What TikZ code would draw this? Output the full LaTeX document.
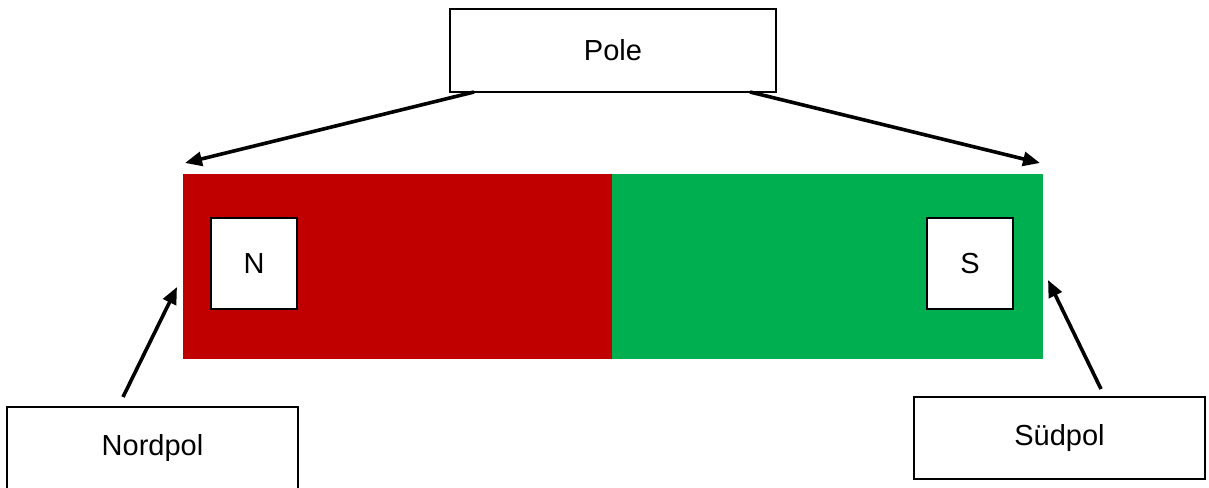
\documentclass[tikz,border=0pt]{standalone}
\usepackage{fontspec}
\setmainfont{Liberation Sans}
\usetikzlibrary{arrows.meta}
\definecolor{polred}{HTML}{C00000}
\definecolor{polgreen}{HTML}{00B050}
\begin{document}
\begin{tikzpicture}[x=1pt,y=-1pt,
  labelbox/.style={draw=black,line width=1.2pt,fill=white,inner sep=0pt,
    font=\fontsize{29}{34}\selectfont},
  polebox/.style={labelbox,minimum width=86pt,minimum height=91pt},
  pointer/.style={line width=3.6pt,-{Triangle[length=17pt,width=14pt]}}]
\useasboundingbox (0,0) rectangle (1209,487);
\clip (0,0) rectangle (1209,487);
% bar magnet: two halves
\fill[polred] (183,174) rectangle (612,359);
\fill[polgreen] (612,174) rectangle (1043,359);
\node[polebox] (n) at (254,263.5) {N};
\node[polebox] (s) at (970,263.5) {S};
% caption boxes
\node[labelbox,minimum width=326pt,minimum height=83pt] (pole) at (613,50.5) {Pole};
\node[labelbox,minimum width=291pt,minimum height=82pt] (nord) at (152.5,448) {Nordpol};
\node[labelbox,minimum width=291pt,minimum height=82pt] (sued) at (1059.5,438) {Südpol};
% arrow endpoints
\coordinate (poleL) at (474,92);
\coordinate (poleR) at (750,92);
\coordinate (cornerL) at (185,163);
\coordinate (cornerR) at (1040,163);
\coordinate (nordS) at (123,397);
\coordinate (nordT) at (177,287);
\coordinate (suedS) at (1101,389);
\coordinate (suedT) at (1048,280);
\draw[pointer] (poleL) -- (cornerL);
\draw[pointer] (poleR) -- (cornerR);
\draw[pointer] (nordS) -- (nordT);
\draw[pointer] (suedS) -- (suedT);
\end{tikzpicture}
\end{document}
